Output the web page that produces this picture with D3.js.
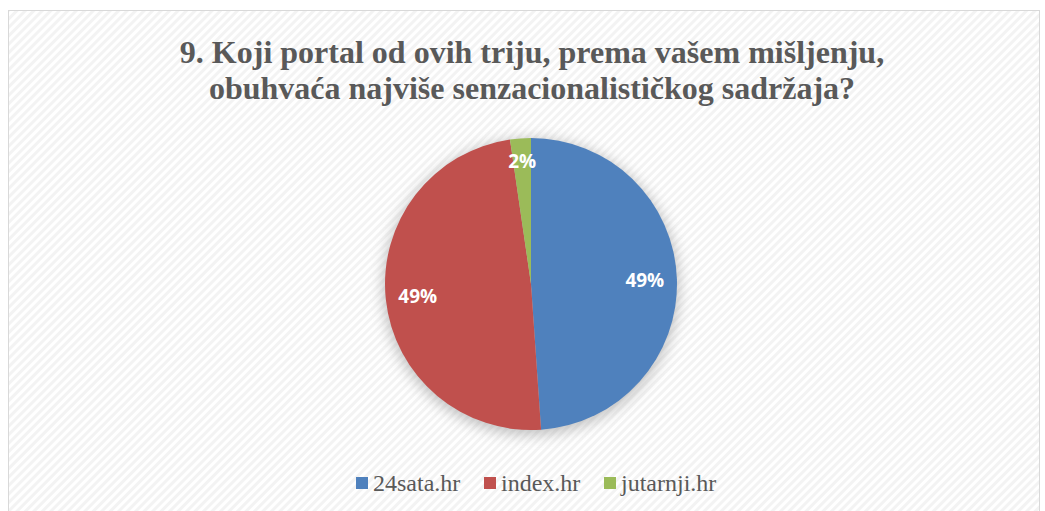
<!DOCTYPE html>
<html>
<head>
<meta charset="utf-8">
<script src="https://cdn.jsdelivr.net/npm/d3@7"></script>
<style>
  body { margin: 0; background: #fff; }
  svg { display: block; }
</style>
</head>
<body>
<svg id="chart"></svg>
<script>
// data
const categories = ["24sata.hr", "index.hr", "jutarnji.hr"];
const values = [48.9, 48.8, 2.3];
const labels = ["49%", "49%", "2%"];
const colors = ["#4f81bd", "#c0504d", "#9bbb59"];
const titleLines = [
    "9. Koji portal od ovih triju, prema vašem mišljenju,",
    "obuhvaća najviše senzacionalističkog sadržaja?"
];

const width = 1045;
const height = 511;

const svg = d3.select("#chart").attr("width", width).attr("height", height);
const defs = svg.append("defs");

// diagonal stripe background
const pat = defs.append("pattern")
    .attr("id", "stripes")
    .attr("patternUnits", "userSpaceOnUse")
    .attr("width", 6).attr("height", 6)
    .attr("patternTransform", "rotate(45)");
pat.append("rect").attr("width", 6).attr("height", 6).attr("fill", "#ffffff");
pat.append("rect").attr("width", 3).attr("height", 6).attr("fill", "#f3f3f3");

const blur = defs.append("filter").attr("id", "shadow")
    .attr("x", "-30%").attr("y", "-30%").attr("width", "160%").attr("height", "160%");
blur.append("feGaussianBlur").attr("stdDeviation", 7);

svg.append("rect")
    .attr("x", 8.5).attr("y", 10.5)
    .attr("width", 1031).attr("height", 510)
    .attr("fill", "url(#stripes)")
    .attr("stroke", "#d9d9d9");

// title
svg.append("g")
    .selectAll("text")
    .data(titleLines)
    .join("text")
    .attr("x", 532)
    .attr("y", (d, i) => 63 + i * 36)
    .attr("text-anchor", "middle")
    .attr("font-family", "Liberation Serif, Times New Roman, serif")
    .attr("font-weight", "bold")
    .attr("font-size", 32)
    .attr("fill", "#595959")
    .text(d => d);

// pie
const cx = 531, cy = 284, r = 146;
const pie = d3.pie().sort(null).value(d => d)(values);
const arc = d3.arc().innerRadius(0).outerRadius(r);

const g = svg.append("g").attr("transform", `translate(${cx},${cy})`);

g.append("circle")
    .attr("r", r + 2)
    .attr("cy", 3)
    .attr("fill", "#9a9a9a")
    .attr("opacity", 0.6)
    .attr("filter", "url(#shadow)");

g.selectAll("path.slice")
    .data(pie)
    .join("path")
    .attr("class", "slice")
    .attr("d", arc)
    .attr("fill", (d, i) => colors[i]);

const labelRadius = [0.78, 0.78, 0.84];

g.selectAll("text.lbl")
    .data(pie)
    .join("text")
    .attr("class", "lbl")
    .attr("transform", (d, i) => {
        const a = d3.arc().innerRadius(r * labelRadius[i]).outerRadius(r * labelRadius[i]);
        return `translate(${a.centroid(d)})`;
    })
    .attr("text-anchor", "middle")
    .attr("dy", "0.35em")
    .attr("font-family", "Open Sans, Liberation Sans, sans-serif")
    .attr("font-weight", "bold")
    .attr("font-size", 19)
    .attr("fill", "#ffffff")
    .text((d, i) => labels[i]);

// legend
const legendX = [356, 484, 604];
const legend = svg.append("g").attr("transform", "translate(0,483)");
const item = legend.selectAll("g")
    .data(categories)
    .join("g")
    .attr("transform", (d, i) => `translate(${legendX[i]},0)`);
item.append("rect")
    .attr("y", -6).attr("width", 12).attr("height", 12)
    .attr("fill", (d, i) => colors[i]);
item.append("text")
    .attr("x", 17)
    .attr("dy", "0.35em")
    .attr("font-family", "Liberation Serif, Times New Roman, serif")
    .attr("font-size", 24)
    .attr("fill", "#595959")
    .text(d => d);
</script>
</body>
</html>
